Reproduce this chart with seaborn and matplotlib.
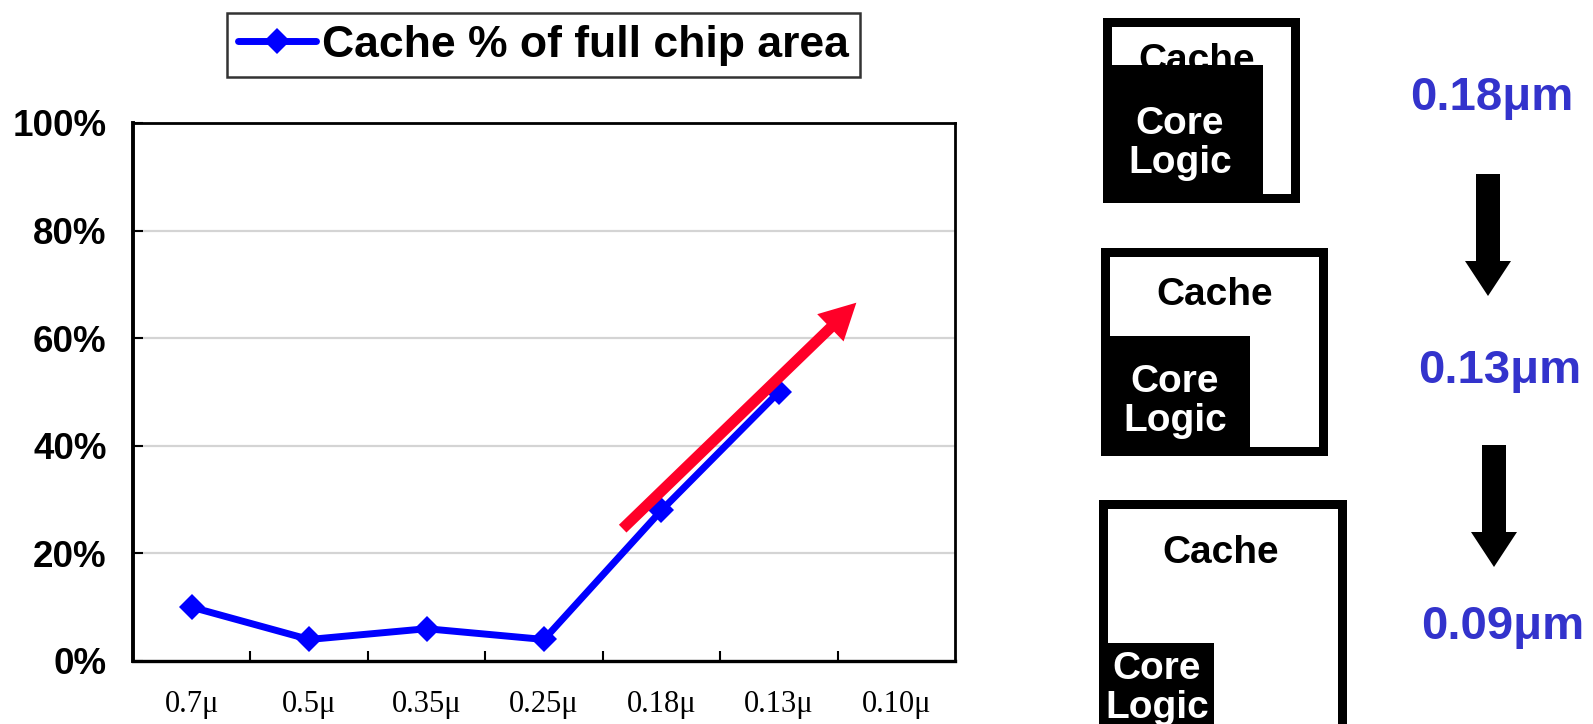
import matplotlib
matplotlib.use("Agg")
import matplotlib.pyplot as plt
from matplotlib.patches import Rectangle, Polygon
import numpy as np
import seaborn as sns

# Process nodes and cache share of die area
nodes = ["0.7\u03bc", "0.5\u03bc", "0.35\u03bc", "0.25\u03bc", "0.18\u03bc", "0.13\u03bc", "0.10\u03bc"]
cache_pct = [10, 4, 6, 4, 28, 50]
y_ticks = [0, 20, 40, 60, 80, 100]
y_tick_labels = ["0%", "20%", "40%", "60%", "80%", "100%"]
series_label = "Cache % of full chip area"

# Trend arrow (start/end in node index, percent)
trend_start = (3.67, 24.6)
trend_end = (5.66, 66.6)

# Floorplan sketches: process label per step
step_labels = ["0.18\u03bcm", "0.13\u03bcm", "0.09\u03bcm"]

sns.set_theme(style="white")
plt.rcParams["font.family"] = ["Liberation Sans", "DejaVu Sans"]
plt.rcParams["text.color"] = "black"
plt.rcParams["xtick.color"] = "black"
plt.rcParams["ytick.color"] = "black"

W, H = 1593, 724
fig = plt.figure(figsize=(W / 100, H / 100), dpi=100)
fig.patch.set_facecolor("white")

ax = fig.add_axes([133 / W, 1 - 661 / H, (955 - 133) / W, (661 - 123) / H])
x_pos = np.arange(len(cache_pct))
sns.lineplot(x=x_pos, y=cache_pct, ax=ax, color="#0000ff", lw=5,
             marker="D", markersize=13.5, markeredgewidth=0,
             label=series_label)

ax.set_xlim(-0.5, len(nodes) - 0.5)
ax.set_ylim(0, 100)
ax.set_yticks(y_ticks)
ax.set_yticklabels(y_tick_labels, fontsize=26.5, fontweight="bold")
ax.set_xticks(np.arange(len(nodes)))
ax.set_xticklabels(nodes, fontsize=22, family=["Liberation Serif", "DejaVu Serif"])
ax.set_xticks(np.arange(len(nodes) - 1) + 0.5, minor=True)
ax.tick_params(axis="x", which="major", length=0, pad=21, colors="black")
ax.tick_params(axis="x", which="minor", direction="in", length=7, width=1.5,
               color="black", bottom=True)
ax.tick_params(axis="y", which="major", direction="in", length=7, width=1.5,
               color="black", pad=19, left=True, labelcolor="black")
ax.set_xlabel("")
ax.set_ylabel("")

for y in y_ticks[1:-1]:
    ax.axhline(y, color="#d4d4d4", lw=1.6, zorder=0)

for side, lw in {"left": 2.8, "bottom": 2.4, "top": 2.0, "right": 2.0}.items():
    ax.spines[side].set_visible(True)
    ax.spines[side].set_color("black")
    ax.spines[side].set_linewidth(lw)

ax.annotate("", xy=trend_end, xytext=trend_start,
            arrowprops=dict(arrowstyle="simple,head_length=1.0,head_width=1.05,tail_width=0.3",
                            mutation_scale=26, color="#ff0028", lw=0,
                            shrinkA=0, shrinkB=0),
            zorder=5)

leg = ax.legend(loc="center", bbox_to_anchor=((230 + 857) / 2 / W, 1 - 45 / H),
                bbox_transform=fig.transFigure, frameon=True, fancybox=False,
                prop={"size": 32, "weight": "bold"}, handlelength=1.75,
                handletextpad=0.15, borderpad=0.25, borderaxespad=0)
leg.get_frame().set_edgecolor("black")
leg.get_frame().set_linewidth(1.8)
for t in leg.get_texts():
    t.set_color("black")

# Floorplan sketches drawn in pixel coordinates
dx = fig.add_axes([0, 0, 1, 1])
dx.set_xlim(0, W)
dx.set_ylim(H, 0)
dx.axis("off")

boxes = [
    # outer x0, x1, y0, y1, core right, core top
    (1103, 1300, 18, 203, 1263, 65),
    (1101, 1328, 248, 456, 1250, 336),
    (1099, 1347, 500, 740, 1214, 643),
]
cache_text = [(1197, 71), (1215, 305), (1221, 563)]
core_text = [(1180, 134), (1175, 392), (1157, 679)]
bw = 9
for (x0, x1, y0, y1, cr, ct), (cx, cy), (kx, ky) in zip(boxes, cache_text, core_text):
    dx.add_patch(Rectangle((x0, y0), x1 - x0, y1 - y0, facecolor="black", lw=0, zorder=1))
    dx.add_patch(Rectangle((x0 + bw, y0 + bw), x1 - x0 - 2 * bw, y1 - y0 - 2 * bw,
                           facecolor="white", lw=0, zorder=2))
    dx.text(cx, cy, "Cache", ha="center", va="baseline", fontsize=28,
            fontweight="bold", color="black", zorder=3)
    dx.add_patch(Rectangle((x0, ct), cr - x0, y1 - ct, facecolor="black", lw=0, zorder=4))
    dx.text(kx, ky, "Core", ha="center", va="baseline", fontsize=28,
            fontweight="bold", color="white", zorder=5)
    dx.text(kx, ky + 39, "Logic", ha="center", va="baseline", fontsize=28,
            fontweight="bold", color="white", zorder=5)

label_pos = [(1492, 110), (1500, 383), (1503, 639)]
for lab, (lx, ly) in zip(step_labels, label_pos):
    dx.text(lx, ly, lab, ha="center", va="baseline", fontsize=34,
            fontweight="bold", color="#3333cc")

# Down arrows between steps: (center x, top, head start, tip)
down_arrows = [(1488, 174, 261, 296), (1494, 445, 532, 567)]
for cxa, top, hs, tip in down_arrows:
    sw, hw = 12, 23
    dx.add_patch(Polygon([(cxa - sw, top), (cxa + sw, top), (cxa + sw, hs),
                          (cxa + hw, hs), (cxa, tip), (cxa - hw, hs),
                          (cxa - sw, hs)], closed=True, facecolor="black", lw=0))

fig.savefig("out.png", dpi=100, facecolor="white")
